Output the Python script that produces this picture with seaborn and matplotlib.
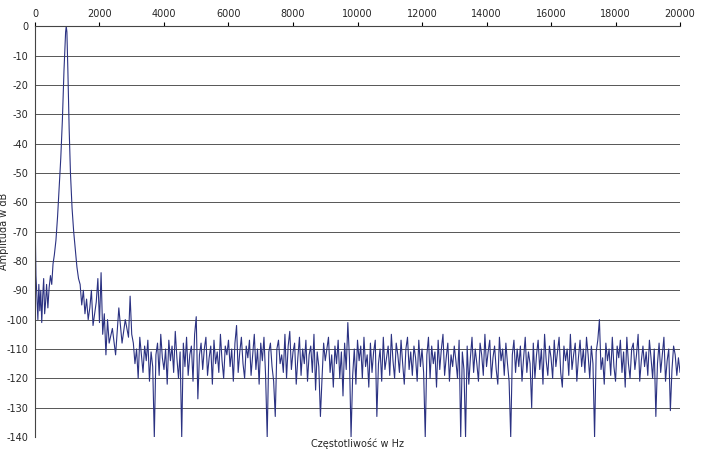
import numpy as np
import pandas as pd
import matplotlib
matplotlib.use("Agg")
import matplotlib.pyplot as plt
import seaborn as sns

# Low-frequency region (Hz, dB)
low_freq = [0,30,60,90,120,150,180,210,240,270,300,330,360,400,440,480,520,560,600,650,700,750,800,850,900,950,970,990,1020,1060,1100,1150,1200,1250,1300,1350,1400,1450,1500,1550,1600,1650,1700,1750,1800,1850,1900,1950,2000,2050,2100,2150,2200,2250,2300,2400,2500,2600,2700,2800,2900,2950,3000]
low_amp = [-62,-85,-92,-100,-88,-97,-90,-101,-92,-86,-98,-94,-88,-96,-89,-85,-88,-81,-78,-73,-65,-55,-45,-32,-15,-2,0,-2,-15,-35,-50,-62,-70,-76,-82,-86,-88,-95,-90,-98,-93,-100,-96,-90,-102,-98,-94,-86,-101,-84,-105,-98,-112,-100,-108,-103,-112,-96,-108,-100,-106,-92,-105]

# Noise floor, 3050..20000 Hz every 50 Hz
noise_freq = list(range(3050, 20001, 50))
noise_amp = [
-108,-115,-110,-120,-106,-112,-118,-109,-114,-107,-121,-111,-116,-140,-112,-108,-119,-105,-113,-117,
-110,-122,-107,-114,-109,-118,-104,-113,-120,-111,-140,-108,-116,-106,-119,-112,-109,-121,-105,-99,
-127,-112,-108,-117,-110,-106,-119,-113,-109,-122,-107,-115,-111,-118,-105,-114,-120,-109,-112,-107,
-116,-110,-121,-108,-102,-118,-111,-106,-115,-120,-109,-113,-107,-119,-112,-105,-117,-110,-122,-108,
-114,-106,-119,-140,-111,-108,-116,-121,-133,-110,-107,-115,-112,-118,-105,-120,-109,-104,-117,-111,
-108,-122,-113,-106,-119,-110,-115,-107,-121,-112,-109,-118,-105,-124,-111,-116,-133,-120,-108,-114,
-110,-106,-118,-112,-123,-109,-115,-107,-120,-111,-126,-108,-117,-101,-113,-140,-119,-110,-122,-107,
-114,-109,-120,-106,-116,-112,-123,-108,-118,-111,-107,-133,-115,-110,-121,-106,-117,-113,-109,-119,
-105,-114,-120,-108,-112,-118,-107,-115,-122,-110,-106,-117,-111,-119,-109,-113,-121,-107,-116,-110,
-118,-140,-112,-106,-120,-109,-115,-111,-123,-107,-117,-110,-105,-119,-113,-108,-121,-112,-116,-109,
-114,-120,-107,-140,-111,-117,-140,-109,-122,-113,-106,-118,-110,-115,-121,-108,-112,-119,-105,-116,
-111,-107,-120,-113,-109,-117,-122,-106,-114,-110,-119,-108,-115,-121,-140,-112,-107,-118,-110,-116,
-109,-121,-113,-106,-118,-111,-115,-130,-108,-120,-112,-107,-117,-110,-122,-105,-114,-119,-109,-113,
-120,-107,-116,-111,-106,-118,-123,-109,-114,-110,-119,-105,-117,-112,-108,-121,-113,-107,-116,-110,
-118,-106,-112,-120,-109,-115,-140,-111,-107,-100,-117,-113,-122,-108,-114,-110,-119,-106,-116,-121,
-109,-113,-107,-118,-111,-123,-106,-115,-120,-110,-108,-117,-112,-105,-121,-114,-109,-116,-111,-119,
-107,-113,-120,-110,-133,-115,-108,-118,-112,-106,-121,-114,-110,-131,-117,-109,-112,-119,-113,-118,
]

x_ticks = list(range(0, 20001, 2000))
y_ticks = list(range(-140, 1, 10))

df = pd.DataFrame({"f": low_freq + noise_freq, "a": low_amp + noise_amp})

sns.set_style("white")
plt.rcParams["axes.unicode_minus"] = False
fig = plt.figure(figsize=(7.05, 4.51), dpi=100)
ax = fig.add_axes([0.0496, 0.031, 0.915, 0.911])
sns.lineplot(data=df, x="f", y="a", ax=ax, color="#2b3282", linewidth=0.8, estimator=None)
ax.set_xlim(0, 20000)
ax.set_ylim(-140, 0)
ax.set_xticks(x_ticks)
ax.set_yticks(y_ticks)
ax.xaxis.tick_top()
ax.xaxis.set_label_position("bottom")
ax.tick_params(labelsize=7, length=3, color="black", pad=2)
ax.yaxis.grid(True, color="#555555", linewidth=0.7)
ax.xaxis.grid(False)
for s in ["right", "bottom"]:
    ax.spines[s].set_visible(False)
ax.spines["left"].set_color("#444444")
ax.spines["top"].set_color("#444444")
ax.set_xlabel("Częstotliwość w Hz", fontsize=7, labelpad=1)
ax.set_ylabel("Amplituda w dB", fontsize=7)
ax.yaxis.set_label_coords(-0.04, 0.5)
fig.savefig("out.png", dpi=100)
